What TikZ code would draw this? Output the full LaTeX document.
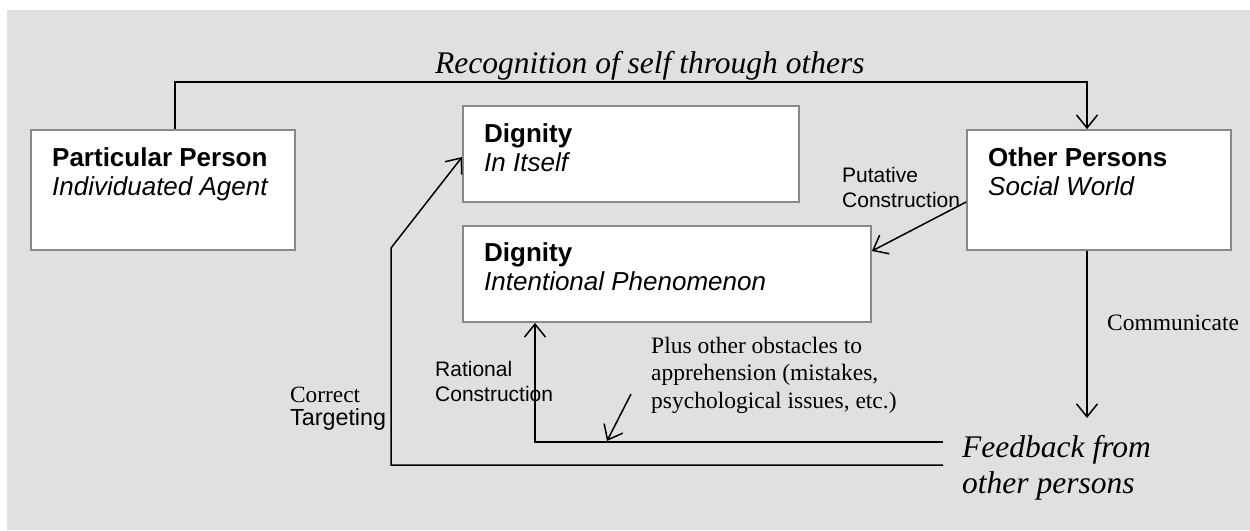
\documentclass[tikz,border=0pt]{standalone}
\usepackage{fontspec}
\setmainfont{Liberation Serif}
\setsansfont{Liberation Sans}
\usepackage{tikz}
\usetikzlibrary{arrows.meta}
\definecolor{bggray}{HTML}{E0E0E0}
\definecolor{boxgray}{HTML}{888888}
\tikzset{
  box/.style={draw=boxgray, line width=1.8pt, fill=white, inner sep=0pt},
  conn/.style={black, line width=1.5pt, line join=miter},
  boxtext/.style={inner sep=0pt, anchor=base west, align=left,
    font=\sffamily\fontsize{26}{29}\selectfont},
  smallsans/.style={inner sep=0pt, anchor=base west, align=left,
    font=\sffamily\fontsize{21}{24.5}\selectfont},
  serifnote/.style={inner sep=0pt, anchor=base west, align=left,
    font=\rmfamily\fontsize{23.5}{27.5}\selectfont}
}

\begin{document}
\begin{tikzpicture}[x=1pt, y=-1pt, >={Straight Barb[length=13pt, width=21pt, line width=1.5pt]}]
\useasboundingbox (0,0) rectangle (1250,530);
\fill[bggray] (7,10) rectangle (1250,530);

% the four boxes
\node[box, minimum width=264, minimum height=120] (pp) at (163,190) {};
\node[box, minimum width=336, minimum height=96] (ii) at (631,154) {};
\node[box, minimum width=408, minimum height=96] (ip) at (667,274) {};
\node[box, minimum width=264, minimum height=120] (op) at (1099,190) {};

% multi-line texts sit on the baseline of their last line
\node[boxtext] (pptext) at (52,195) {\textbf{Particular Person}\\\textit{Individuated Agent}};
\node[boxtext] (iitext) at (484,171) {\textbf{Dignity}\\\textit{In Itself}};
\node[boxtext] (iptext) at (484,290) {\textbf{Dignity}\\\textit{Intentional Phenomenon}};
\node[boxtext] (optext) at (988,195) {\textbf{Other Persons}\\\textit{Social World}};

% labels
\node[inner sep=0pt, anchor=base west, font=\rmfamily\itshape\fontsize{31.5}{36}\selectfont]
  (recog) at (435,73) {Recognition of self through others};
\node[smallsans] (putative) at (842,207) {Putative\\Construction};
\node[smallsans] (rational) at (435,401) {Rational\\Construction};
\node[inner sep=0pt, anchor=base west, align=left, font=\fontsize{23.3}{23}\selectfont]
  (target) at (290,425) {\rmfamily Correct\\\sffamily Targeting};
\node[serifnote] (comm) at (1107,330) {Communicate};
\node[serifnote] (obst) at (651,408) {Plus other obstacles to\\apprehension (mistakes,\\psychological issues, etc.)};
\node[inner sep=0pt, anchor=base west, align=left, font=\rmfamily\itshape\fontsize{31.5}{36}\selectfont]
  (fback) at (962,493) {Feedback from\\other persons};

\coordinate (rl) at (175,82);
\coordinate (rr) at (1087,82);
\coordinate (commend) at (1087,418);
\coordinate (fbtop) at (943,442);
\coordinate (fbbot) at (943,465);
\coordinate (ratcorner) at (535,442);
\coordinate (tgcorner) at (391,465);
\coordinate (tgbend) at (391,248);
\coordinate (obstart) at (631,394);
\coordinate (obend) at (607,441);

% connectors
\draw[conn, ->] (pp.north -| rl) -- (rl) -- (rr) -- (op.north -| rr);
\draw[conn, ->] ([yshift=-12pt]op.west) -- ([yshift=23pt]ip.east);
\draw[conn, ->] (op.south -| rr) -- (commend);
\draw[conn, ->] (fbtop) -- (ratcorner) -- (ip.south -| ratcorner);
\draw[conn, ->] (fbbot) -- (tgcorner) -- (tgbend) -- ([yshift=-3pt]ii.west);
\draw[conn, ->] (obstart) -- (obend);
\end{tikzpicture}
\end{document}
